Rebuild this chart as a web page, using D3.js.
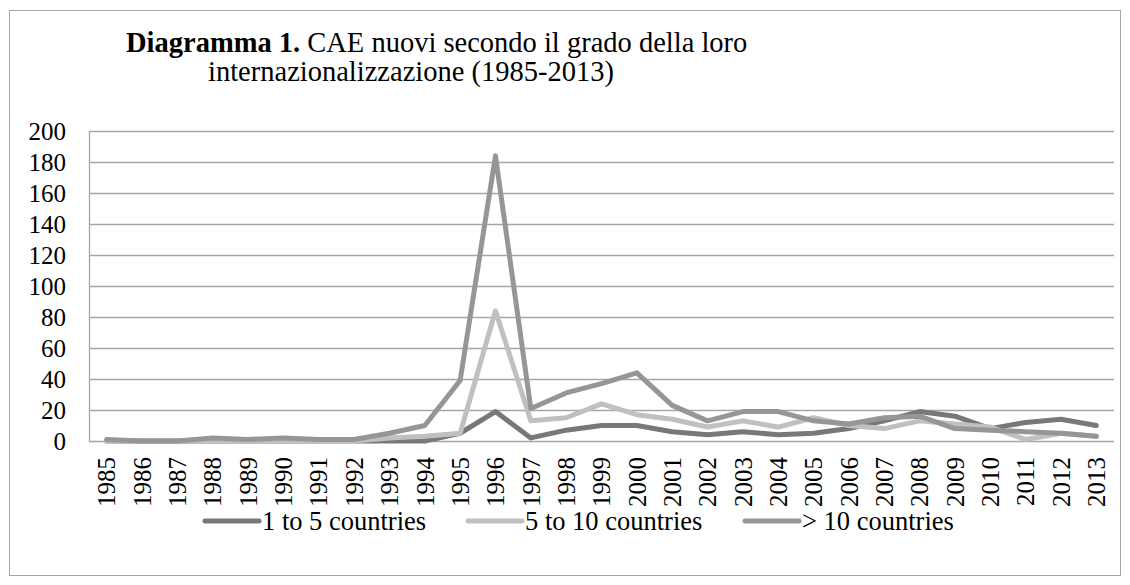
<!DOCTYPE html>
<html>
<head>
<meta charset="utf-8">
<script src="https://cdn.jsdelivr.net/npm/d3@7"></script>
<style>
  body { margin: 0; background: #fff; }
  text { font-family: "Liberation Serif", "Times New Roman", serif; fill: #000; }
</style>
</head>
<body>
<svg id="chart" width="1130" height="585"></svg>
<script>
var years = ["1985","1986","1987","1988","1989","1990","1991","1992","1993","1994",
  "1995","1996","1997","1998","1999","2000","2001","2002","2003","2004",
  "2005","2006","2007","2008","2009","2010","2011","2012","2013"]

var oneToFive = [0,0,0,0,0,0,0,0,0,0,5,19,2,7,10,10,6,4,6,4,5,8,13,19,16,8,12,14,10]
var fiveToTen = [0,0,0,0,0,0,0,0,2,3,5,84,13,15,24,17,14,9,13,9,15,10,8,13,11,9,1,5,3]
var overTen = [1,0,0,2,1,2,1,1,5,10,39,184,21,31,37,44,23,13,19,19,13,11,15,16,8,7,6,5,3]

var seriesNames = ["1 to 5 countries", "5 to 10 countries", "> 10 countries"]
var seriesColors = ["#787878", "#c0c0c0", "#969696"]
var yTicks = [0,20,40,60,80,100,120,140,160,180,200]

var svg = d3.select("#chart")

// outer frame
svg.append("rect")
  .attr("x", 9.5).attr("y", 10.5)
  .attr("width", 1111).attr("height", 565)
  .attr("fill", "none").attr("stroke", "#a6a6a6").attr("stroke-width", 1)

// title
var t1 = svg.append("text").attr("x", 126).attr("y", 52).attr("font-size", 28.5)
t1.append("tspan").attr("font-weight", "bold").text("Diagramma 1.")
t1.append("tspan").text(" CAE nuovi secondo il grado della loro")
svg.append("text").attr("x", 208).attr("y", 81).attr("font-size", 28.5)
  .text("internazionalizzazione (1985-2013)")

var plotL = 89, plotR = 1114, plotT = 131, plotB = 441

var x = d3.scaleBand().domain(years).range([plotL, plotR])
var y = d3.scaleLinear().domain([0, 200]).range([plotB, plotT])

// gridlines
svg.append("g").selectAll("line")
  .data(yTicks)
  .enter().append("line")
  .attr("x1", plotL).attr("x2", plotR)
  .attr("y1", function(d) { return Math.round(y(d)) + 0.5 })
  .attr("y2", function(d) { return Math.round(y(d)) + 0.5 })
  .attr("stroke", "#a6a6a6").attr("stroke-width", 1.3)

// vertical axis line
svg.append("line")
  .attr("x1", plotL + 0.5).attr("x2", plotL + 0.5)
  .attr("y1", plotT).attr("y2", plotB + 0.5)
  .attr("stroke", "#a6a6a6").attr("stroke-width", 1.3)

// y labels
var yAxis = d3.axisLeft(y).tickValues(yTicks).tickSize(0).tickPadding(23)
var yg = svg.append("g").attr("transform", "translate(" + plotL + ",0)").call(yAxis)
yg.select(".domain").remove()
yg.selectAll("text").attr("font-size", 25).attr("font-family", "Liberation Serif").attr("fill", "#000")

// x labels
var xAxis = d3.axisBottom(x).tickSize(0).tickPadding(0)
var xg = svg.append("g").attr("transform", "translate(0," + plotB + ")").call(xAxis)
xg.select(".domain").remove()
xg.selectAll("text")
  .attr("font-size", 25).attr("font-family", "Liberation Serif").attr("fill", "#000")
  .attr("transform", "rotate(-90)")
  .attr("text-anchor", "end")
  .attr("x", -16).attr("y", 0).attr("dy", "0.35em")

// lines
var line = d3.line()
  .x(function(d, i) { return x(years[i]) + x.bandwidth() / 2 })
  .y(function(d) { return y(d) })

var allSeries = [oneToFive, fiveToTen, overTen]
svg.append("g").selectAll("path")
  .data(allSeries)
  .enter().append("path")
  .attr("d", line)
  .attr("fill", "none")
  .attr("stroke", function(d, i) { return seriesColors[i] })
  .attr("stroke-width", 5)
  .attr("stroke-linejoin", "round")
  .attr("stroke-linecap", "round")

// legend
var legendX = [205, 468, 745]
var lg = svg.append("g").selectAll("g")
  .data(seriesNames)
  .enter().append("g")
  .attr("transform", function(d, i) { return "translate(" + legendX[i] + ",521)" })
lg.append("line")
  .attr("x1", 0).attr("x2", 54).attr("y1", 0).attr("y2", 0)
  .attr("stroke", function(d, i) { return seriesColors[i] })
  .attr("stroke-width", 5).attr("stroke-linecap", "round")
lg.append("text")
  .attr("x", 57).attr("y", 0).attr("dy", "0.33em")
  .attr("font-size", 26.5)
  .text(function(d) { return d })
</script>
</body>
</html>
